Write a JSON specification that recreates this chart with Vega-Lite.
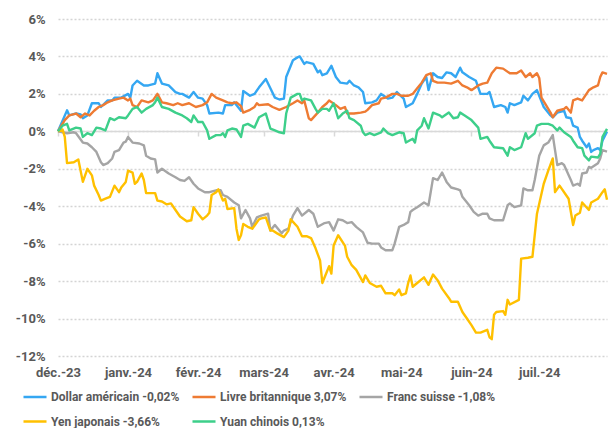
{
"$schema":"https://vega.github.io/schema/vega-lite/v6.json",
"width":549,"height":337,"autosize":"none",
"padding":{"left":58,"top":19,"right":8,"bottom":72},
"background":"white",
"config":{"view":{"stroke":null},"font":"Roboto"},
"data":{"values":[
{"s":"USD","d":"2023-12-01","v":0},{"s":"USD","d":"2023-12-05","v":1.12},{"s":"USD","d":"2023-12-06","v":0.85},{"s":"USD","d":"2023-12-09","v":0.96},{"s":"USD","d":"2023-12-11","v":0.9},{"s":"USD","d":"2023-12-12","v":0.7},{"s":"USD","d":"2023-12-14","v":0.85},{"s":"USD","d":"2023-12-16","v":1.5},{"s":"USD","d":"2023-12-19","v":1.5},{"s":"USD","d":"2023-12-20","v":1.3},{"s":"USD","d":"2023-12-23","v":1.65},{"s":"USD","d":"2023-12-25","v":1.65},{"s":"USD","d":"2023-12-26","v":1.8},{"s":"USD","d":"2023-12-29","v":1.8},{"s":"USD","d":"2024-01-01","v":2.0},{"s":"USD","d":"2024-01-02","v":1.8},{"s":"USD","d":"2024-01-03","v":2.45},{"s":"USD","d":"2024-01-05","v":2.7},{"s":"USD","d":"2024-01-08","v":2.45},{"s":"USD","d":"2024-01-10","v":2.45},{"s":"USD","d":"2024-01-13","v":2.55},{"s":"USD","d":"2024-01-14","v":3.1},{"s":"USD","d":"2024-01-16","v":2.55},{"s":"USD","d":"2024-01-19","v":2.45},{"s":"USD","d":"2024-01-22","v":2.1},{"s":"USD","d":"2024-01-24","v":2.0},{"s":"USD","d":"2024-01-25","v":2.0},{"s":"USD","d":"2024-01-28","v":1.8},{"s":"USD","d":"2024-01-30","v":2.1},{"s":"USD","d":"2024-02-01","v":1.8},{"s":"USD","d":"2024-02-03","v":1.75},{"s":"USD","d":"2024-02-05","v":1.4},{"s":"USD","d":"2024-02-06","v":0.95},{"s":"USD","d":"2024-02-10","v":1.0},{"s":"USD","d":"2024-02-12","v":0.95},{"s":"USD","d":"2024-02-13","v":1.4},{"s":"USD","d":"2024-02-16","v":1.4},{"s":"USD","d":"2024-02-17","v":1.55},{"s":"USD","d":"2024-02-20","v":1.1},{"s":"USD","d":"2024-02-21","v":2.15},{"s":"USD","d":"2024-02-24","v":1.9},{"s":"USD","d":"2024-02-26","v":2.0},{"s":"USD","d":"2024-02-28","v":2.35},{"s":"USD","d":"2024-03-02","v":2.8},{"s":"USD","d":"2024-03-04","v":2.3},{"s":"USD","d":"2024-03-06","v":1.8},{"s":"USD","d":"2024-03-08","v":1.7},{"s":"USD","d":"2024-03-10","v":1.75},{"s":"USD","d":"2024-03-11","v":2.9},{"s":"USD","d":"2024-03-14","v":3.8},{"s":"USD","d":"2024-03-16","v":3.95},{"s":"USD","d":"2024-03-17","v":4.0},{"s":"USD","d":"2024-03-19","v":3.6},{"s":"USD","d":"2024-03-20","v":3.7},{"s":"USD","d":"2024-03-23","v":3.6},{"s":"USD","d":"2024-03-25","v":3.15},{"s":"USD","d":"2024-03-26","v":3.25},{"s":"USD","d":"2024-03-27","v":3.0},{"s":"USD","d":"2024-03-29","v":3.1},{"s":"USD","d":"2024-03-31","v":3.5},{"s":"USD","d":"2024-04-02","v":2.9},{"s":"USD","d":"2024-04-04","v":2.6},{"s":"USD","d":"2024-04-07","v":2.55},{"s":"USD","d":"2024-04-08","v":2.7},{"s":"USD","d":"2024-04-10","v":2.45},{"s":"USD","d":"2024-04-12","v":2.35},{"s":"USD","d":"2024-04-14","v":2.1},{"s":"USD","d":"2024-04-15","v":1.5},{"s":"USD","d":"2024-04-18","v":1.55},{"s":"USD","d":"2024-04-20","v":1.65},{"s":"USD","d":"2024-04-22","v":2.0},{"s":"USD","d":"2024-04-25","v":1.75},{"s":"USD","d":"2024-04-27","v":1.8},{"s":"USD","d":"2024-04-29","v":2.1},{"s":"USD","d":"2024-05-02","v":1.75},{"s":"USD","d":"2024-05-03","v":1.3},{"s":"USD","d":"2024-05-06","v":1.5},{"s":"USD","d":"2024-05-08","v":2.0},{"s":"USD","d":"2024-05-10","v":2.55},{"s":"USD","d":"2024-05-12","v":2.9},{"s":"USD","d":"2024-05-13","v":2.2},{"s":"USD","d":"2024-05-15","v":3.1},{"s":"USD","d":"2024-05-17","v":2.9},{"s":"USD","d":"2024-05-19","v":2.85},{"s":"USD","d":"2024-05-21","v":3.15},{"s":"USD","d":"2024-05-23","v":3.1},{"s":"USD","d":"2024-05-25","v":2.9},{"s":"USD","d":"2024-05-27","v":3.4},{"s":"USD","d":"2024-05-28","v":3.15},{"s":"USD","d":"2024-05-31","v":2.9},{"s":"USD","d":"2024-06-03","v":2.7},{"s":"USD","d":"2024-06-05","v":2.0},{"s":"USD","d":"2024-06-08","v":2.0},{"s":"USD","d":"2024-06-09","v":2.1},{"s":"USD","d":"2024-06-11","v":1.3},{"s":"USD","d":"2024-06-14","v":1.4},{"s":"USD","d":"2024-06-16","v":1.3},{"s":"USD","d":"2024-06-17","v":1.0},{"s":"USD","d":"2024-06-18","v":1.5},{"s":"USD","d":"2024-06-20","v":1.4},{"s":"USD","d":"2024-06-23","v":1.55},{"s":"USD","d":"2024-06-24","v":1.9},{"s":"USD","d":"2024-06-26","v":1.65},{"s":"USD","d":"2024-06-28","v":2.0},{"s":"USD","d":"2024-06-30","v":2.2},{"s":"USD","d":"2024-07-01","v":1.9},{"s":"USD","d":"2024-07-03","v":1.3},{"s":"USD","d":"2024-07-06","v":0.85},{"s":"USD","d":"2024-07-07","v":0.75},{"s":"USD","d":"2024-07-09","v":1.0},{"s":"USD","d":"2024-07-12","v":1.1},{"s":"USD","d":"2024-07-13","v":0.75},{"s":"USD","d":"2024-07-15","v":0.7},{"s":"USD","d":"2024-07-16","v":0.3},{"s":"USD","d":"2024-07-18","v":0.2},{"s":"USD","d":"2024-07-19","v":-0.3},{"s":"USD","d":"2024-07-20","v":-0.5},{"s":"USD","d":"2024-07-22","v":-0.85},{"s":"USD","d":"2024-07-23","v":-0.65},{"s":"USD","d":"2024-07-24","v":-1.1},{"s":"USD","d":"2024-07-25","v":-1.0},{"s":"USD","d":"2024-07-27","v":-0.9},{"s":"USD","d":"2024-07-28","v":-1.0},{"s":"USD","d":"2024-07-29","v":-0.5},{"s":"USD","d":"2024-07-31","v":-0.02},
{"s":"GBP","d":"2023-12-01","v":0},{"s":"GBP","d":"2023-12-04","v":0.6},{"s":"GBP","d":"2023-12-06","v":0.85},{"s":"GBP","d":"2023-12-09","v":0.95},{"s":"GBP","d":"2023-12-11","v":0.75},{"s":"GBP","d":"2023-12-13","v":0.95},{"s":"GBP","d":"2023-12-15","v":0.85},{"s":"GBP","d":"2023-12-17","v":1.1},{"s":"GBP","d":"2023-12-19","v":1.3},{"s":"GBP","d":"2023-12-21","v":1.4},{"s":"GBP","d":"2023-12-23","v":1.55},{"s":"GBP","d":"2023-12-25","v":1.65},{"s":"GBP","d":"2023-12-28","v":1.75},{"s":"GBP","d":"2023-12-30","v":1.8},{"s":"GBP","d":"2024-01-01","v":1.65},{"s":"GBP","d":"2024-01-02","v":1.75},{"s":"GBP","d":"2024-01-03","v":1.4},{"s":"GBP","d":"2024-01-05","v":1.3},{"s":"GBP","d":"2024-01-07","v":1.65},{"s":"GBP","d":"2024-01-10","v":1.55},{"s":"GBP","d":"2024-01-12","v":1.65},{"s":"GBP","d":"2024-01-14","v":2.0},{"s":"GBP","d":"2024-01-16","v":1.55},{"s":"GBP","d":"2024-01-18","v":1.5},{"s":"GBP","d":"2024-01-21","v":1.4},{"s":"GBP","d":"2024-01-23","v":1.5},{"s":"GBP","d":"2024-01-25","v":1.4},{"s":"GBP","d":"2024-01-28","v":1.5},{"s":"GBP","d":"2024-01-31","v":1.3},{"s":"GBP","d":"2024-02-03","v":1.4},{"s":"GBP","d":"2024-02-05","v":1.55},{"s":"GBP","d":"2024-02-07","v":2.0},{"s":"GBP","d":"2024-02-09","v":1.8},{"s":"GBP","d":"2024-02-12","v":1.65},{"s":"GBP","d":"2024-02-14","v":1.55},{"s":"GBP","d":"2024-02-16","v":1.5},{"s":"GBP","d":"2024-02-18","v":1.55},{"s":"GBP","d":"2024-02-20","v":1.35},{"s":"GBP","d":"2024-02-21","v":1.0},{"s":"GBP","d":"2024-02-24","v":1.15},{"s":"GBP","d":"2024-02-26","v":1.3},{"s":"GBP","d":"2024-02-27","v":1.5},{"s":"GBP","d":"2024-02-28","v":1.4},{"s":"GBP","d":"2024-03-03","v":1.45},{"s":"GBP","d":"2024-03-05","v":1.3},{"s":"GBP","d":"2024-03-08","v":1.15},{"s":"GBP","d":"2024-03-11","v":1.3},{"s":"GBP","d":"2024-03-14","v":1.5},{"s":"GBP","d":"2024-03-16","v":1.65},{"s":"GBP","d":"2024-03-18","v":1.5},{"s":"GBP","d":"2024-03-19","v":1.65},{"s":"GBP","d":"2024-03-21","v":0.7},{"s":"GBP","d":"2024-03-22","v":0.6},{"s":"GBP","d":"2024-03-25","v":1.0},{"s":"GBP","d":"2024-03-27","v":1.3},{"s":"GBP","d":"2024-03-29","v":1.5},{"s":"GBP","d":"2024-03-30","v":1.65},{"s":"GBP","d":"2024-04-02","v":1.4},{"s":"GBP","d":"2024-04-04","v":1.2},{"s":"GBP","d":"2024-04-06","v":1.3},{"s":"GBP","d":"2024-04-07","v":0.95},{"s":"GBP","d":"2024-04-10","v":0.95},{"s":"GBP","d":"2024-04-13","v":1.0},{"s":"GBP","d":"2024-04-15","v":1.05},{"s":"GBP","d":"2024-04-16","v":1.15},{"s":"GBP","d":"2024-04-18","v":1.4},{"s":"GBP","d":"2024-04-21","v":1.5},{"s":"GBP","d":"2024-04-22","v":1.75},{"s":"GBP","d":"2024-04-24","v":1.8},{"s":"GBP","d":"2024-04-27","v":2.0},{"s":"GBP","d":"2024-04-29","v":2.0},{"s":"GBP","d":"2024-05-01","v":1.9},{"s":"GBP","d":"2024-05-04","v":1.9},{"s":"GBP","d":"2024-05-06","v":2.0},{"s":"GBP","d":"2024-05-08","v":2.3},{"s":"GBP","d":"2024-05-10","v":2.6},{"s":"GBP","d":"2024-05-12","v":3.0},{"s":"GBP","d":"2024-05-14","v":3.1},{"s":"GBP","d":"2024-05-15","v":2.7},{"s":"GBP","d":"2024-05-17","v":2.6},{"s":"GBP","d":"2024-05-20","v":2.6},{"s":"GBP","d":"2024-05-23","v":2.55},{"s":"GBP","d":"2024-05-26","v":2.7},{"s":"GBP","d":"2024-05-28","v":2.45},{"s":"GBP","d":"2024-05-30","v":2.35},{"s":"GBP","d":"2024-06-01","v":2.2},{"s":"GBP","d":"2024-06-04","v":2.45},{"s":"GBP","d":"2024-06-06","v":2.55},{"s":"GBP","d":"2024-06-08","v":2.6},{"s":"GBP","d":"2024-06-10","v":3.1},{"s":"GBP","d":"2024-06-12","v":3.4},{"s":"GBP","d":"2024-06-15","v":3.35},{"s":"GBP","d":"2024-06-18","v":3.1},{"s":"GBP","d":"2024-06-21","v":3.1},{"s":"GBP","d":"2024-06-23","v":3.25},{"s":"GBP","d":"2024-06-25","v":2.9},{"s":"GBP","d":"2024-06-27","v":3.1},{"s":"GBP","d":"2024-06-28","v":2.9},{"s":"GBP","d":"2024-06-30","v":3.1},{"s":"GBP","d":"2024-07-01","v":2.85},{"s":"GBP","d":"2024-07-02","v":1.8},{"s":"GBP","d":"2024-07-04","v":1.4},{"s":"GBP","d":"2024-07-06","v":1.0},{"s":"GBP","d":"2024-07-07","v":0.75},{"s":"GBP","d":"2024-07-09","v":1.1},{"s":"GBP","d":"2024-07-12","v":1.2},{"s":"GBP","d":"2024-07-13","v":1.3},{"s":"GBP","d":"2024-07-15","v":1.0},{"s":"GBP","d":"2024-07-16","v":1.65},{"s":"GBP","d":"2024-07-18","v":1.75},{"s":"GBP","d":"2024-07-20","v":1.65},{"s":"GBP","d":"2024-07-23","v":2.2},{"s":"GBP","d":"2024-07-25","v":2.35},{"s":"GBP","d":"2024-07-27","v":2.45},{"s":"GBP","d":"2024-07-28","v":2.9},{"s":"GBP","d":"2024-07-29","v":3.15},{"s":"GBP","d":"2024-07-31","v":3.07},
{"s":"CHF","d":"2023-12-01","v":0},{"s":"CHF","d":"2023-12-05","v":-0.1},{"s":"CHF","d":"2023-12-08","v":-0.05},{"s":"CHF","d":"2023-12-09","v":-0.1},{"s":"CHF","d":"2023-12-12","v":-0.6},{"s":"CHF","d":"2023-12-14","v":-0.65},{"s":"CHF","d":"2023-12-16","v":-0.85},{"s":"CHF","d":"2023-12-18","v":-1.1},{"s":"CHF","d":"2023-12-20","v":-1.65},{"s":"CHF","d":"2023-12-21","v":-1.8},{"s":"CHF","d":"2023-12-23","v":-1.7},{"s":"CHF","d":"2023-12-25","v":-1.45},{"s":"CHF","d":"2023-12-26","v":-1.1},{"s":"CHF","d":"2023-12-28","v":-1.0},{"s":"CHF","d":"2023-12-30","v":-0.6},{"s":"CHF","d":"2023-12-31","v":-0.55},{"s":"CHF","d":"2024-01-01","v":-0.3},{"s":"CHF","d":"2024-01-03","v":-0.6},{"s":"CHF","d":"2024-01-06","v":-0.65},{"s":"CHF","d":"2024-01-08","v":-0.75},{"s":"CHF","d":"2024-01-09","v":-1.3},{"s":"CHF","d":"2024-01-11","v":-1.45},{"s":"CHF","d":"2024-01-13","v":-1.5},{"s":"CHF","d":"2024-01-14","v":-2.2},{"s":"CHF","d":"2024-01-16","v":-2.0},{"s":"CHF","d":"2024-01-19","v":-2.25},{"s":"CHF","d":"2024-01-22","v":-2.45},{"s":"CHF","d":"2024-01-24","v":-2.6},{"s":"CHF","d":"2024-01-26","v":-2.65},{"s":"CHF","d":"2024-01-28","v":-2.45},{"s":"CHF","d":"2024-01-30","v":-2.8},{"s":"CHF","d":"2024-02-01","v":-3.05},{"s":"CHF","d":"2024-02-04","v":-3.25},{"s":"CHF","d":"2024-02-06","v":-3.25},{"s":"CHF","d":"2024-02-09","v":-3.15},{"s":"CHF","d":"2024-02-11","v":-3.15},{"s":"CHF","d":"2024-02-12","v":-3.4},{"s":"CHF","d":"2024-02-14","v":-3.5},{"s":"CHF","d":"2024-02-17","v":-3.8},{"s":"CHF","d":"2024-02-19","v":-3.95},{"s":"CHF","d":"2024-02-20","v":-4.65},{"s":"CHF","d":"2024-02-22","v":-4.2},{"s":"CHF","d":"2024-02-24","v":-4.65},{"s":"CHF","d":"2024-02-25","v":-5.1},{"s":"CHF","d":"2024-02-27","v":-4.6},{"s":"CHF","d":"2024-02-29","v":-4.5},{"s":"CHF","d":"2024-03-03","v":-4.4},{"s":"CHF","d":"2024-03-04","v":-5.3},{"s":"CHF","d":"2024-03-06","v":-5.0},{"s":"CHF","d":"2024-03-09","v":-5.45},{"s":"CHF","d":"2024-03-10","v":-5.3},{"s":"CHF","d":"2024-03-12","v":-5.2},{"s":"CHF","d":"2024-03-14","v":-4.5},{"s":"CHF","d":"2024-03-16","v":-4.1},{"s":"CHF","d":"2024-03-18","v":-4.5},{"s":"CHF","d":"2024-03-21","v":-4.2},{"s":"CHF","d":"2024-03-23","v":-4.4},{"s":"CHF","d":"2024-03-25","v":-5.1},{"s":"CHF","d":"2024-03-28","v":-4.9},{"s":"CHF","d":"2024-03-30","v":-4.85},{"s":"CHF","d":"2024-04-01","v":-5.3},{"s":"CHF","d":"2024-04-03","v":-4.7},{"s":"CHF","d":"2024-04-05","v":-4.75},{"s":"CHF","d":"2024-04-07","v":-4.9},{"s":"CHF","d":"2024-04-09","v":-4.85},{"s":"CHF","d":"2024-04-11","v":-5.1},{"s":"CHF","d":"2024-04-14","v":-5.4},{"s":"CHF","d":"2024-04-16","v":-5.95},{"s":"CHF","d":"2024-04-18","v":-6.0},{"s":"CHF","d":"2024-04-21","v":-6.0},{"s":"CHF","d":"2024-04-22","v":-6.2},{"s":"CHF","d":"2024-04-24","v":-6.35},{"s":"CHF","d":"2024-04-27","v":-6.35},{"s":"CHF","d":"2024-04-28","v":-6.0},{"s":"CHF","d":"2024-04-30","v":-5.1},{"s":"CHF","d":"2024-05-02","v":-5.0},{"s":"CHF","d":"2024-05-04","v":-4.85},{"s":"CHF","d":"2024-05-05","v":-4.3},{"s":"CHF","d":"2024-05-06","v":-4.2},{"s":"CHF","d":"2024-05-08","v":-4.05},{"s":"CHF","d":"2024-05-11","v":-3.8},{"s":"CHF","d":"2024-05-13","v":-3.95},{"s":"CHF","d":"2024-05-15","v":-2.5},{"s":"CHF","d":"2024-05-17","v":-2.6},{"s":"CHF","d":"2024-05-19","v":-2.2},{"s":"CHF","d":"2024-05-21","v":-2.7},{"s":"CHF","d":"2024-05-23","v":-3.0},{"s":"CHF","d":"2024-05-26","v":-3.1},{"s":"CHF","d":"2024-05-27","v":-3.15},{"s":"CHF","d":"2024-05-28","v":-3.5},{"s":"CHF","d":"2024-05-31","v":-3.95},{"s":"CHF","d":"2024-06-02","v":-4.3},{"s":"CHF","d":"2024-06-04","v":-4.5},{"s":"CHF","d":"2024-06-06","v":-4.4},{"s":"CHF","d":"2024-06-08","v":-4.4},{"s":"CHF","d":"2024-06-09","v":-4.65},{"s":"CHF","d":"2024-06-11","v":-4.75},{"s":"CHF","d":"2024-06-15","v":-4.75},{"s":"CHF","d":"2024-06-17","v":-3.95},{"s":"CHF","d":"2024-06-18","v":-3.85},{"s":"CHF","d":"2024-06-20","v":-4.05},{"s":"CHF","d":"2024-06-23","v":-3.95},{"s":"CHF","d":"2024-06-24","v":-3.05},{"s":"CHF","d":"2024-06-26","v":-3.15},{"s":"CHF","d":"2024-06-28","v":-3.15},{"s":"CHF","d":"2024-06-29","v":-2.6},{"s":"CHF","d":"2024-07-01","v":-1.3},{"s":"CHF","d":"2024-07-03","v":-0.75},{"s":"CHF","d":"2024-07-05","v":-0.6},{"s":"CHF","d":"2024-07-07","v":-0.2},{"s":"CHF","d":"2024-07-08","v":-1.0},{"s":"CHF","d":"2024-07-09","v":-1.8},{"s":"CHF","d":"2024-07-11","v":-1.7},{"s":"CHF","d":"2024-07-12","v":-1.8},{"s":"CHF","d":"2024-07-15","v":-2.6},{"s":"CHF","d":"2024-07-16","v":-2.9},{"s":"CHF","d":"2024-07-18","v":-2.8},{"s":"CHF","d":"2024-07-19","v":-2.9},{"s":"CHF","d":"2024-07-20","v":-2.25},{"s":"CHF","d":"2024-07-22","v":-2.2},{"s":"CHF","d":"2024-07-23","v":-1.9},{"s":"CHF","d":"2024-07-24","v":-1.95},{"s":"CHF","d":"2024-07-27","v":-1.7},{"s":"CHF","d":"2024-07-28","v":-1.45},{"s":"CHF","d":"2024-07-29","v":-1.0},{"s":"CHF","d":"2024-07-31","v":-1.08},
{"s":"JPY","d":"2023-12-01","v":0},{"s":"JPY","d":"2023-12-03","v":0.1},{"s":"JPY","d":"2023-12-04","v":-0.3},{"s":"JPY","d":"2023-12-05","v":-1.7},{"s":"JPY","d":"2023-12-08","v":-1.65},{"s":"JPY","d":"2023-12-10","v":-1.5},{"s":"JPY","d":"2023-12-12","v":-2.7},{"s":"JPY","d":"2023-12-13","v":-2.35},{"s":"JPY","d":"2023-12-14","v":-2.0},{"s":"JPY","d":"2023-12-16","v":-2.35},{"s":"JPY","d":"2023-12-17","v":-2.9},{"s":"JPY","d":"2023-12-19","v":-3.4},{"s":"JPY","d":"2023-12-20","v":-3.7},{"s":"JPY","d":"2023-12-22","v":-3.6},{"s":"JPY","d":"2023-12-24","v":-3.5},{"s":"JPY","d":"2023-12-26","v":-2.9},{"s":"JPY","d":"2023-12-28","v":-3.25},{"s":"JPY","d":"2023-12-29","v":-3.0},{"s":"JPY","d":"2023-12-31","v":-2.7},{"s":"JPY","d":"2024-01-01","v":-2.1},{"s":"JPY","d":"2024-01-03","v":-2.2},{"s":"JPY","d":"2024-01-04","v":-2.8},{"s":"JPY","d":"2024-01-05","v":-2.7},{"s":"JPY","d":"2024-01-07","v":-2.25},{"s":"JPY","d":"2024-01-08","v":-2.6},{"s":"JPY","d":"2024-01-09","v":-3.3},{"s":"JPY","d":"2024-01-13","v":-3.3},{"s":"JPY","d":"2024-01-14","v":-3.7},{"s":"JPY","d":"2024-01-16","v":-3.75},{"s":"JPY","d":"2024-01-18","v":-3.9},{"s":"JPY","d":"2024-01-20","v":-3.85},{"s":"JPY","d":"2024-01-22","v":-4.2},{"s":"JPY","d":"2024-01-24","v":-4.55},{"s":"JPY","d":"2024-01-27","v":-4.8},{"s":"JPY","d":"2024-01-29","v":-4.75},{"s":"JPY","d":"2024-01-30","v":-4.05},{"s":"JPY","d":"2024-02-01","v":-4.4},{"s":"JPY","d":"2024-02-03","v":-4.7},{"s":"JPY","d":"2024-02-05","v":-4.5},{"s":"JPY","d":"2024-02-06","v":-4.35},{"s":"JPY","d":"2024-02-07","v":-3.4},{"s":"JPY","d":"2024-02-09","v":-3.25},{"s":"JPY","d":"2024-02-10","v":-3.1},{"s":"JPY","d":"2024-02-12","v":-3.7},{"s":"JPY","d":"2024-02-13","v":-3.6},{"s":"JPY","d":"2024-02-14","v":-4.15},{"s":"JPY","d":"2024-02-17","v":-4.1},{"s":"JPY","d":"2024-02-18","v":-5.2},{"s":"JPY","d":"2024-02-19","v":-5.8},{"s":"JPY","d":"2024-02-20","v":-5.55},{"s":"JPY","d":"2024-02-21","v":-4.95},{"s":"JPY","d":"2024-02-23","v":-5.1},{"s":"JPY","d":"2024-02-25","v":-5.2},{"s":"JPY","d":"2024-02-28","v":-4.7},{"s":"JPY","d":"2024-02-29","v":-4.65},{"s":"JPY","d":"2024-03-02","v":-4.6},{"s":"JPY","d":"2024-03-04","v":-5.3},{"s":"JPY","d":"2024-03-05","v":-5.3},{"s":"JPY","d":"2024-03-07","v":-5.45},{"s":"JPY","d":"2024-03-10","v":-5.65},{"s":"JPY","d":"2024-03-12","v":-5.3},{"s":"JPY","d":"2024-03-13","v":-4.7},{"s":"JPY","d":"2024-03-16","v":-5.1},{"s":"JPY","d":"2024-03-18","v":-5.6},{"s":"JPY","d":"2024-03-20","v":-5.6},{"s":"JPY","d":"2024-03-22","v":-5.7},{"s":"JPY","d":"2024-03-24","v":-6.25},{"s":"JPY","d":"2024-03-26","v":-6.9},{"s":"JPY","d":"2024-03-27","v":-8.1},{"s":"JPY","d":"2024-03-29","v":-7.5},{"s":"JPY","d":"2024-03-30","v":-7.2},{"s":"JPY","d":"2024-03-31","v":-7.6},{"s":"JPY","d":"2024-04-01","v":-6.1},{"s":"JPY","d":"2024-04-03","v":-5.55},{"s":"JPY","d":"2024-04-06","v":-6.1},{"s":"JPY","d":"2024-04-07","v":-6.7},{"s":"JPY","d":"2024-04-09","v":-7.15},{"s":"JPY","d":"2024-04-11","v":-7.4},{"s":"JPY","d":"2024-04-14","v":-8.05},{"s":"JPY","d":"2024-04-15","v":-7.7},{"s":"JPY","d":"2024-04-17","v":-8.1},{"s":"JPY","d":"2024-04-20","v":-8.3},{"s":"JPY","d":"2024-04-22","v":-8.25},{"s":"JPY","d":"2024-04-24","v":-8.65},{"s":"JPY","d":"2024-04-27","v":-8.65},{"s":"JPY","d":"2024-04-28","v":-8.75},{"s":"JPY","d":"2024-04-30","v":-8.45},{"s":"JPY","d":"2024-05-01","v":-8.75},{"s":"JPY","d":"2024-05-03","v":-8.65},{"s":"JPY","d":"2024-05-04","v":-8.1},{"s":"JPY","d":"2024-05-05","v":-7.7},{"s":"JPY","d":"2024-05-06","v":-8.3},{"s":"JPY","d":"2024-05-08","v":-8.1},{"s":"JPY","d":"2024-05-11","v":-7.8},{"s":"JPY","d":"2024-05-13","v":-8.2},{"s":"JPY","d":"2024-05-15","v":-7.65},{"s":"JPY","d":"2024-05-17","v":-7.95},{"s":"JPY","d":"2024-05-19","v":-8.4},{"s":"JPY","d":"2024-05-22","v":-8.9},{"s":"JPY","d":"2024-05-23","v":-9.1},{"s":"JPY","d":"2024-05-26","v":-9.1},{"s":"JPY","d":"2024-05-28","v":-9.65},{"s":"JPY","d":"2024-05-30","v":-10.0},{"s":"JPY","d":"2024-06-01","v":-10.35},{"s":"JPY","d":"2024-06-03","v":-10.75},{"s":"JPY","d":"2024-06-05","v":-10.75},{"s":"JPY","d":"2024-06-08","v":-10.6},{"s":"JPY","d":"2024-06-09","v":-11.0},{"s":"JPY","d":"2024-06-10","v":-11.1},{"s":"JPY","d":"2024-06-11","v":-9.8},{"s":"JPY","d":"2024-06-12","v":-9.65},{"s":"JPY","d":"2024-06-15","v":-9.6},{"s":"JPY","d":"2024-06-16","v":-9.8},{"s":"JPY","d":"2024-06-17","v":-9.0},{"s":"JPY","d":"2024-06-18","v":-9.25},{"s":"JPY","d":"2024-06-22","v":-9.0},{"s":"JPY","d":"2024-06-23","v":-6.8},{"s":"JPY","d":"2024-06-26","v":-6.75},{"s":"JPY","d":"2024-06-28","v":-6.7},{"s":"JPY","d":"2024-06-30","v":-4.4},{"s":"JPY","d":"2024-07-03","v":-2.8},{"s":"JPY","d":"2024-07-05","v":-2.1},{"s":"JPY","d":"2024-07-07","v":-1.45},{"s":"JPY","d":"2024-07-08","v":-3.25},{"s":"JPY","d":"2024-07-10","v":-2.9},{"s":"JPY","d":"2024-07-14","v":-3.6},{"s":"JPY","d":"2024-07-16","v":-5.0},{"s":"JPY","d":"2024-07-17","v":-4.5},{"s":"JPY","d":"2024-07-19","v":-4.35},{"s":"JPY","d":"2024-07-20","v":-3.8},{"s":"JPY","d":"2024-07-23","v":-4.2},{"s":"JPY","d":"2024-07-24","v":-3.8},{"s":"JPY","d":"2024-07-27","v":-3.6},{"s":"JPY","d":"2024-07-29","v":-3.25},{"s":"JPY","d":"2024-07-30","v":-3.1},{"s":"JPY","d":"2024-07-31","v":-3.66},
{"s":"CNY","d":"2023-12-01","v":0},{"s":"CNY","d":"2023-12-03","v":0.3},{"s":"CNY","d":"2023-12-05","v":0.4},{"s":"CNY","d":"2023-12-06","v":0.05},{"s":"CNY","d":"2023-12-09","v":0.2},{"s":"CNY","d":"2023-12-11","v":0.15},{"s":"CNY","d":"2023-12-12","v":-0.3},{"s":"CNY","d":"2023-12-14","v":-0.1},{"s":"CNY","d":"2023-12-16","v":-0.2},{"s":"CNY","d":"2023-12-18","v":0.2},{"s":"CNY","d":"2023-12-20","v":0.15},{"s":"CNY","d":"2023-12-22","v":0.05},{"s":"CNY","d":"2023-12-24","v":0.7},{"s":"CNY","d":"2023-12-26","v":0.6},{"s":"CNY","d":"2023-12-28","v":0.75},{"s":"CNY","d":"2023-12-31","v":0.7},{"s":"CNY","d":"2024-01-01","v":0.85},{"s":"CNY","d":"2024-01-03","v":1.2},{"s":"CNY","d":"2024-01-05","v":1.3},{"s":"CNY","d":"2024-01-07","v":1.0},{"s":"CNY","d":"2024-01-09","v":1.2},{"s":"CNY","d":"2024-01-12","v":1.4},{"s":"CNY","d":"2024-01-13","v":1.55},{"s":"CNY","d":"2024-01-14","v":1.8},{"s":"CNY","d":"2024-01-16","v":1.3},{"s":"CNY","d":"2024-01-19","v":1.2},{"s":"CNY","d":"2024-01-22","v":1.0},{"s":"CNY","d":"2024-01-25","v":0.85},{"s":"CNY","d":"2024-01-27","v":0.7},{"s":"CNY","d":"2024-01-29","v":0.5},{"s":"CNY","d":"2024-01-30","v":0.85},{"s":"CNY","d":"2024-02-01","v":0.5},{"s":"CNY","d":"2024-02-03","v":0.5},{"s":"CNY","d":"2024-02-05","v":0.05},{"s":"CNY","d":"2024-02-06","v":-0.4},{"s":"CNY","d":"2024-02-09","v":-0.2},{"s":"CNY","d":"2024-02-11","v":-0.2},{"s":"CNY","d":"2024-02-12","v":-0.1},{"s":"CNY","d":"2024-02-13","v":-0.3},{"s":"CNY","d":"2024-02-14","v":0.05},{"s":"CNY","d":"2024-02-16","v":0.15},{"s":"CNY","d":"2024-02-18","v":0.1},{"s":"CNY","d":"2024-02-20","v":-0.3},{"s":"CNY","d":"2024-02-21","v":0.3},{"s":"CNY","d":"2024-02-23","v":0.4},{"s":"CNY","d":"2024-02-26","v":0.2},{"s":"CNY","d":"2024-02-28","v":0.75},{"s":"CNY","d":"2024-03-02","v":0.95},{"s":"CNY","d":"2024-03-04","v":0.15},{"s":"CNY","d":"2024-03-06","v":0.05},{"s":"CNY","d":"2024-03-08","v":-0.05},{"s":"CNY","d":"2024-03-10","v":-0.1},{"s":"CNY","d":"2024-03-11","v":0.95},{"s":"CNY","d":"2024-03-13","v":1.8},{"s":"CNY","d":"2024-03-16","v":2.0},{"s":"CNY","d":"2024-03-17","v":2.0},{"s":"CNY","d":"2024-03-18","v":1.65},{"s":"CNY","d":"2024-03-19","v":1.75},{"s":"CNY","d":"2024-03-22","v":1.65},{"s":"CNY","d":"2024-03-24","v":1.2},{"s":"CNY","d":"2024-03-25","v":1.0},{"s":"CNY","d":"2024-03-27","v":1.2},{"s":"CNY","d":"2024-03-29","v":1.2},{"s":"CNY","d":"2024-03-30","v":1.1},{"s":"CNY","d":"2024-04-01","v":1.5},{"s":"CNY","d":"2024-04-03","v":0.7},{"s":"CNY","d":"2024-04-05","v":0.95},{"s":"CNY","d":"2024-04-07","v":1.1},{"s":"CNY","d":"2024-04-08","v":0.7},{"s":"CNY","d":"2024-04-10","v":0.6},{"s":"CNY","d":"2024-04-13","v":0.3},{"s":"CNY","d":"2024-04-14","v":-0.05},{"s":"CNY","d":"2024-04-15","v":-0.2},{"s":"CNY","d":"2024-04-17","v":-0.1},{"s":"CNY","d":"2024-04-19","v":-0.2},{"s":"CNY","d":"2024-04-22","v":-0.05},{"s":"CNY","d":"2024-04-23","v":0.15},{"s":"CNY","d":"2024-04-25","v":-0.1},{"s":"CNY","d":"2024-04-27","v":-0.2},{"s":"CNY","d":"2024-04-30","v":-0.05},{"s":"CNY","d":"2024-05-02","v":-0.1},{"s":"CNY","d":"2024-05-03","v":-0.6},{"s":"CNY","d":"2024-05-06","v":-0.4},{"s":"CNY","d":"2024-05-07","v":-0.6},{"s":"CNY","d":"2024-05-08","v":0.05},{"s":"CNY","d":"2024-05-10","v":0.3},{"s":"CNY","d":"2024-05-11","v":0.7},{"s":"CNY","d":"2024-05-13","v":0.15},{"s":"CNY","d":"2024-05-15","v":1.0},{"s":"CNY","d":"2024-05-18","v":0.85},{"s":"CNY","d":"2024-05-19","v":0.75},{"s":"CNY","d":"2024-05-22","v":1.0},{"s":"CNY","d":"2024-05-24","v":0.7},{"s":"CNY","d":"2024-05-26","v":0.75},{"s":"CNY","d":"2024-05-27","v":1.0},{"s":"CNY","d":"2024-05-29","v":0.85},{"s":"CNY","d":"2024-06-01","v":0.6},{"s":"CNY","d":"2024-06-04","v":0.2},{"s":"CNY","d":"2024-06-05","v":-0.4},{"s":"CNY","d":"2024-06-08","v":-0.3},{"s":"CNY","d":"2024-06-09","v":-0.5},{"s":"CNY","d":"2024-06-11","v":-0.85},{"s":"CNY","d":"2024-06-15","v":-0.9},{"s":"CNY","d":"2024-06-17","v":-1.3},{"s":"CNY","d":"2024-06-18","v":-0.85},{"s":"CNY","d":"2024-06-20","v":-1.0},{"s":"CNY","d":"2024-06-23","v":-0.85},{"s":"CNY","d":"2024-06-25","v":-0.1},{"s":"CNY","d":"2024-06-26","v":-0.4},{"s":"CNY","d":"2024-06-29","v":-0.1},{"s":"CNY","d":"2024-06-30","v":0.3},{"s":"CNY","d":"2024-07-02","v":0.4},{"s":"CNY","d":"2024-07-05","v":0.4},{"s":"CNY","d":"2024-07-07","v":0.3},{"s":"CNY","d":"2024-07-09","v":0.05},{"s":"CNY","d":"2024-07-10","v":0.2},{"s":"CNY","d":"2024-07-12","v":-0.05},{"s":"CNY","d":"2024-07-15","v":-0.3},{"s":"CNY","d":"2024-07-16","v":-0.5},{"s":"CNY","d":"2024-07-18","v":-0.85},{"s":"CNY","d":"2024-07-20","v":-0.9},{"s":"CNY","d":"2024-07-21","v":-1.3},{"s":"CNY","d":"2024-07-23","v":-1.55},{"s":"CNY","d":"2024-07-24","v":-1.35},{"s":"CNY","d":"2024-07-27","v":-1.4},{"s":"CNY","d":"2024-07-28","v":-1.2},{"s":"CNY","d":"2024-07-29","v":-0.3},{"s":"CNY","d":"2024-07-31","v":0.13}
]},
"mark":{"type":"line","strokeWidth":2.4,"strokeJoin":"round"},
"encoding":{
"x":{"field":"d","type":"temporal",
 "scale":{"type":"utc","domain":[{"year":2023,"month":12,"date":1,"utc":true},{"year":2024,"month":7,"date":31,"utc":true}]},
 "axis":{"title":null,"offset":-225,"grid":false,"domainColor":"#d9d9d9","domainWidth":1.5,"tickColor":"#d9d9d9","tickWidth":1.5,"tickSize":5,"labelPadding":230,"labelFontSize":13,"labelFontWeight":"bold","labelColor":"#595959","labelFlush":false,"labelOverlap":false,
 "values":[{"year":2023,"month":12,"date":1,"utc":true},{"year":2024,"month":1,"date":1,"utc":true},{"year":2024,"month":2,"date":1,"utc":true},{"year":2024,"month":3,"date":1,"utc":true},{"year":2024,"month":4,"date":1,"utc":true},{"year":2024,"month":5,"date":1,"utc":true},{"year":2024,"month":6,"date":1,"utc":true},{"year":2024,"month":7,"date":1,"utc":true}],
 "labelExpr":"['janv.','févr.','mars','avr.','mai','juin','juil.','août','sept.','oct.','nov.','déc.'][utcmonth(datum.value)] + '-' + utcFormat(datum.value, '%y')"}},
"y":{"field":"v","type":"quantitative","scale":{"domain":[-12,6],"nice":false},
 "axis":{"title":null,"values":[-12,-10,-8,-6,-4,-2,0,2,4,6],"labelExpr":"datum.value + '%'","domain":false,"ticks":false,"labelPadding":13,"labelFontSize":13,"labelFontWeight":"bold","labelColor":"#595959","gridDash":[2,2],"gridColor":"#d4d4d4","gridWidth":1.5}},
"color":{"field":"s","type":"nominal",
 "scale":{"domain":["USD","GBP","CHF","JPY","CNY"],"range":["#35a7f2","#ee7b33","#a5a5a5","#ffc000","#3dcf8a"]},
 "legend":{"title":null,"orient":"none","legendX":-36,"legendY":365,"direction":"horizontal","columns":3,"padding":0,"symbolType":"stroke","symbolStrokeWidth":2.5,"symbolSize":530,"labelFontSize":12,"labelFontWeight":"bold","labelColor":"#595959","columnPadding":7,"rowPadding":5.5,"labelOffset":3,
 "labelExpr":"datum.label == 'USD' ? 'Dollar américain -0,02%' : datum.label == 'GBP' ? 'Livre britannique 3,07%' : datum.label == 'CHF' ? 'Franc suisse -1,08%' : datum.label == 'JPY' ? 'Yen japonais -3,66%' : 'Yuan chinois 0,13%'"}}
}
}
